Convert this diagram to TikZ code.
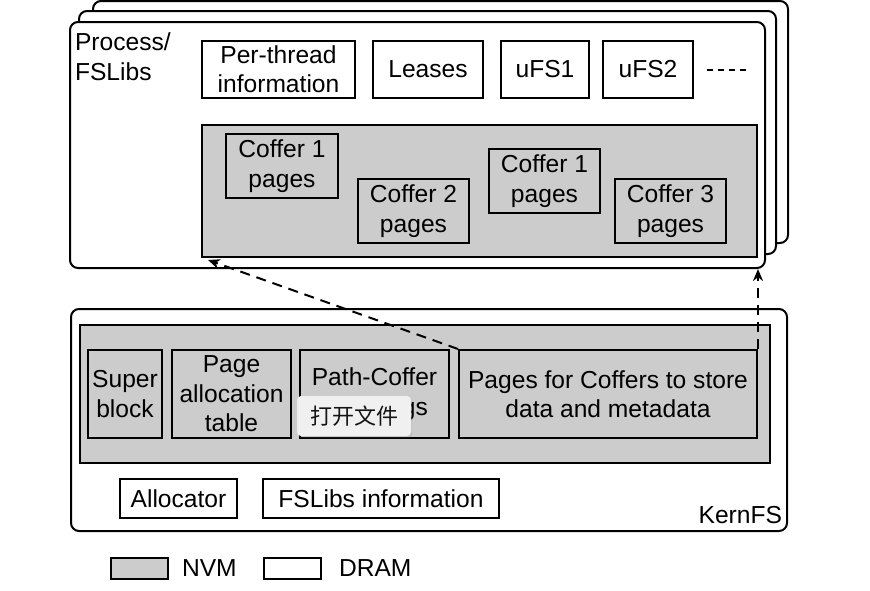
\documentclass[tikz,border=0pt]{standalone}
\usepackage{fontspec}
\setmainfont{Liberation Sans}
\newfontfamily\cjkfont{Noto Sans CJK SC}
\usetikzlibrary{calc,positioning,arrows.meta,shadows}
\definecolor{nvmgray}{HTML}{CCCCCC}

\begin{document}
\begin{tikzpicture}[x=0.5pt,y=-0.5pt,line width=1pt,
  every node/.style={font=\fontsize{12.3}{14.7}\selectfont},
  frame node/.style={draw,fill=white,rounded corners=4pt,inner sep=0pt,anchor=north west},
  dram node/.style={draw,fill=white,align=center,inner sep=0pt,anchor=north west},
  nvm node/.style={draw,fill=nvmgray,align=center,inner sep=0pt,anchor=north west},
  link/.style={-{Stealth[length=6pt,width=5pt]},dash pattern=on 5pt off 3.5pt},
  tooltip/.style={fill=gray!12,text=gray!15!black,rounded corners=2pt,inner sep=0pt,
    anchor=north west,drop shadow={opacity=0.15,shadow xshift=0.6pt,shadow yshift=-1pt},
    font=\cjkfont\fontsize{11}{13}\selectfont}]

  \useasboundingbox (0,0) rectangle (870,590);

  % stacked process frames
  \node[frame node,minimum width=347.5pt,minimum height=121pt] (back) at (92,0) {};
  \node[frame node,minimum width=348.5pt,minimum height=121.5pt] (middle) at (78,10) {};
  \node[frame node,minimum width=347.5pt,minimum height=123pt] (front) at (69,21) {};
  \node[anchor=north west,align=left,inner sep=0pt] (process) at (74,32) {Process/\\FSLibs};

  \node[dram node,minimum width=76.5pt,minimum height=28.5pt] (perthread) at (201,40) {Per-thread\\information};
  \node[dram node,minimum width=55pt,minimum height=28.5pt] (leases) at (372,40) {Leases};
  \node[dram node,minimum width=44pt,minimum height=28.5pt] (ufs1) at (500,40) {uFS1};
  \node[dram node,minimum width=45pt,minimum height=28.5pt] (ufs2) at (602,40) {uFS2};
  \draw[line width=1pt,dash pattern=on 3pt off 2.5pt] ($(ufs2.east)+(13,0)$) -- ++(40,0);

  \node[nvm node,minimum width=277.5pt,minimum height=66pt] (coffers) at (201,124) {};
  \node[nvm node,minimum width=56pt,minimum height=32pt] (coffera) at (225,133) {Coffer 1\\pages};
  \node[nvm node,minimum width=55.5pt,minimum height=32pt] (cofferb) at (357,178) {Coffer 2\\pages};
  \node[nvm node,minimum width=55.5pt,minimum height=32pt] (cofferc) at (488,148) {Coffer 1\\pages};
  \node[nvm node,minimum width=55.5pt,minimum height=32pt] (cofferd) at (614,178) {Coffer 3\\pages};

  % kernel side
  \node[frame node,minimum width=358pt,minimum height=111pt] (kernfs) at (70,308) {};
  \node[anchor=south east,inner sep=0pt] (kernlabel) at (783,525) {KernFS};
  \node[nvm node,minimum width=345pt,minimum height=69pt] (kernnvm) at (79,324) {};
  \node[nvm node,minimum width=37pt,minimum height=44pt] (super) at (87,349) {Super\\block};
  \node[nvm node,minimum width=59.5pt,minimum height=44pt] (pagetable) at (171,349) {Page\\allocation\\table};
  \node[nvm node,minimum width=74.5pt,minimum height=44pt] (pathcoffer) at (299,349) {Path-Coffer\\mappings};
  \node[nvm node,minimum width=149pt,minimum height=44pt] (nvmpages) at (458,349) {Pages for Coffers to store\\data and metadata};
  \node[dram node,minimum width=58.5pt,minimum height=19.5pt] (allocator) at (119,478) {Allocator};
  \node[dram node,minimum width=118pt,minimum height=19.5pt] (fslibsinfo) at (262,478) {FSLibs information};

  % mappings into the process
  \draw[link] (nvmpages.north west) -- ($(coffers.south west)+(7,2)$);
  \draw[link] (nvmpages.north east) -- (nvmpages.north east |- front.south);

  \node[tooltip,minimum width=57pt,minimum height=20pt] (tip) at (296,395) {打开文件};

  % legend
  \node[nvm node,minimum width=28.5pt,minimum height=10.5pt] (nvmkey) at (110,557) {};
  \node[right=6pt of nvmkey,inner sep=0pt] (nvmtext) {NVM};
  \node[dram node,minimum width=28.5pt,minimum height=10.5pt] (dramkey) at (263,557) {};
  \node[right=8pt of dramkey,inner sep=0pt] (dramtext) {DRAM};
\end{tikzpicture}
\end{document}
